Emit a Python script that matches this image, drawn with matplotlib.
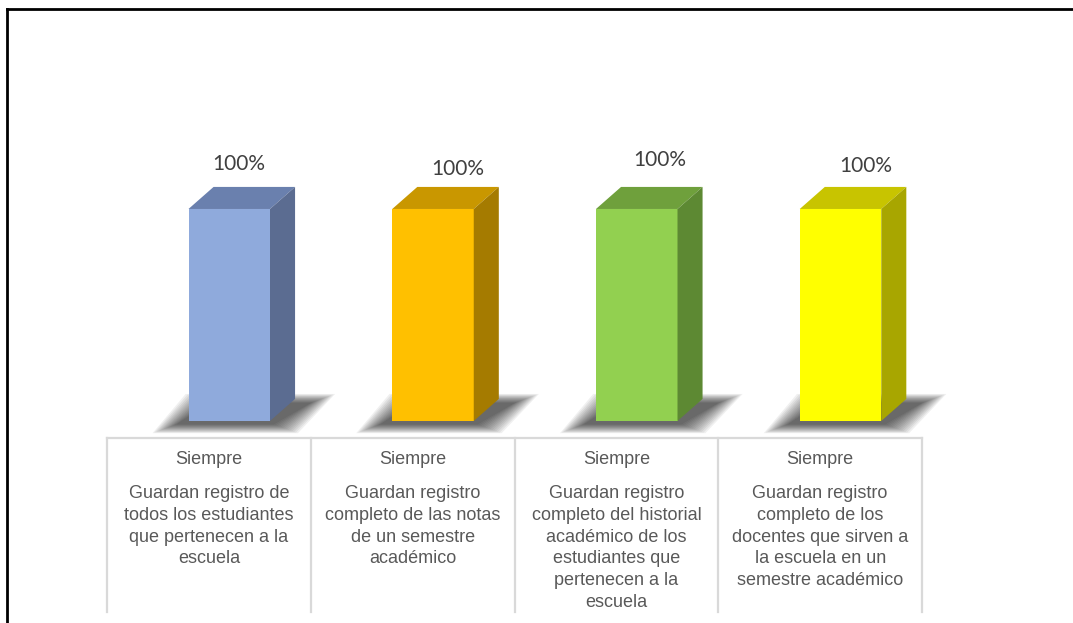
import matplotlib.pyplot as plt
from matplotlib.patches import Polygon
from matplotlib.lines import Line2D

series_name = "Siempre"
categories = [
    "Guardan registro de\ntodos los estudiantes\nque pertenecen a la\nescuela",
    "Guardan registro\ncompleto de las notas\nde un semestre\nacadémico",
    "Guardan registro\ncompleto del historial\nacadémico de los\nestudiantes que\npertenecen a la\nescuela",
    "Guardan registro\ncompleto de los\ndocentes que sirven a\nla escuela en un\nsemestre académico",
]
values = [100, 100, 100, 100]
value_labels = ["100%", "100%", "100%", "100%"]

front_colors = ["#8FAADC", "#FFC000", "#92D050", "#FFFF00"]
top_colors = ["#6A80AE", "#C99700", "#6FA03C", "#C8C400"]
side_colors = ["#5B6C91", "#A57B00", "#5D8933", "#A8A600"]

# hand-placed label offsets (x in category units, y in value units)
label_dx = [0.045, 0.12, 0.115, 0.125]
label_dy = [21, 19, 23, 20.5]

W, H = 1073, 623
fig = plt.figure(figsize=(W / 100, H / 100), dpi=100)


def fx(px):
    return px / W


def fy(py):
    return 1 - py / H


# plot area for the 3D-looking bars
ax = fig.add_axes([fx(107), fy(437), (922 - 107) / W, (437 - 100) / H])
ax.set_xlim(-0.6, 3.4)
ax.set_ylim(-7.55, 151.4)
ax.axis("off")

width = 0.40
dx, dy = 0.123, 10.4
xs = list(range(len(values)))

for x, v, fc, tc, sc in zip(xs, values, front_colors, top_colors, side_colors):
    left, right = x - width / 2, x + width / 2
    # soft floor shadow, built from stacked translucent layers
    for k in range(14):
        g = 0.009 * k
        h = 0.32 * k
        shadow = Polygon(
            [(left - 0.06 - g, -1.6 - h), (right + 0.02 + g, -1.6 - h),
             (right + dx + 0.08 + g, dy - 1.8 + h), (left + dx - 0.02 - g, dy - 1.8 + h)],
            closed=True, facecolor="black", edgecolor="none", alpha=0.06,
            zorder=1, clip_on=False)
        ax.add_patch(shadow)
    ax.bar(x, v, width=width, color=fc, edgecolor="none", zorder=3)
    top = Polygon([(left, v), (right, v), (right + dx, v + dy), (left + dx, v + dy)],
                  closed=True, facecolor=tc, edgecolor="none", zorder=3)
    side = Polygon([(right, 0), (right + dx, dy), (right + dx, v + dy), (right, v)],
                   closed=True, facecolor=sc, edgecolor="none", zorder=3)
    ax.add_patch(top)
    ax.add_patch(side)

for x, v, lab, ddx, ddy in zip(xs, values, value_labels, label_dx, label_dy):
    ax.text(x + ddx, v + ddy, lab, ha="center", va="center",
            fontsize=15, color="#404040", family="Lato", zorder=5)

# data table under the bars
tab = fig.add_axes([fx(107), 0, (922 - 107) / W, (623 - 437) / H])
tab.set_xlim(-0.6, 3.4)
tab.set_ylim(186, 0)
tab.axis("off")

grid = "#D9D9D9"
tab.plot([-0.6, 3.4], [0.5, 0.5], color=grid, lw=1.6, clip_on=False)
for b in [-0.6, 0.4, 1.4, 2.4, 3.4]:
    tab.plot([b, b], [0.5, 175], color=grid, lw=1.6, clip_on=False)

for x, cat in zip(xs, categories):
    cx = x - 0.1
    tab.text(cx, 22.5, series_name, ha="center", va="center",
             fontsize=13, color="#595959", family="Liberation Sans")
    tab.text(cx, 48, cat, ha="center", va="top", linespacing=1.37,
             fontsize=13, color="#595959", family="Liberation Sans")

# outer frame (top and left edges)
fig.add_artist(Line2D([fx(7), 1], [fy(9), fy(9)], color="black", lw=2,
                      transform=fig.transFigure))
fig.add_artist(Line2D([fx(7), fx(7)], [fy(9), 0], color="black", lw=2,
                      transform=fig.transFigure))

fig.savefig("out.png", dpi=100, facecolor="white")
